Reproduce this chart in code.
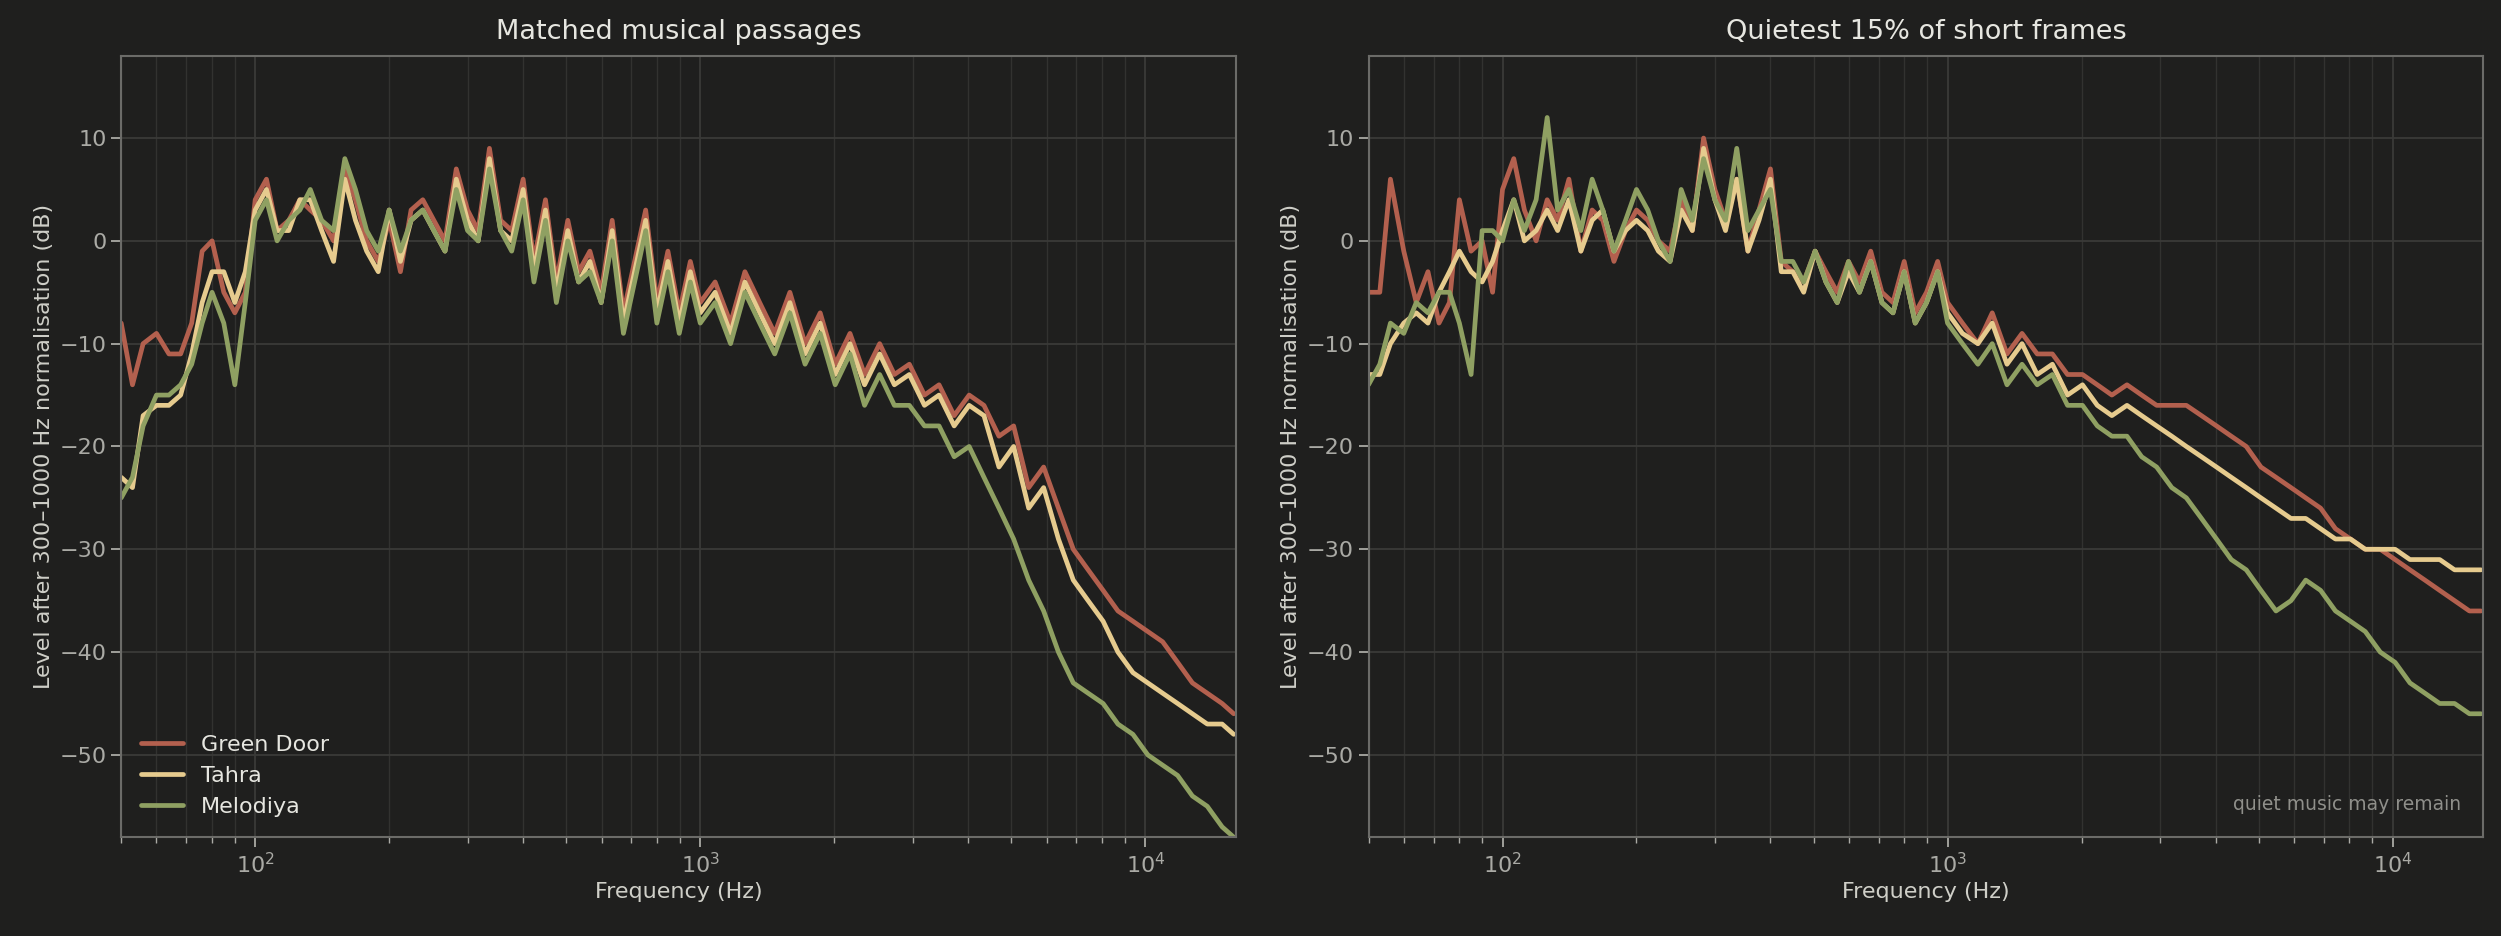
import numpy as np, pandas as pd, matplotlib
matplotlib.use("Agg")
import matplotlib.pyplot as plt, seaborn as sns

freq = [50,53,56,60,64,68,72,76,80,85,90,95,
 100,106,112,119,126,133,141,150,159,168,178,189,200,212,224,238,252,267,283,300,317,336,356,377,400,423,449,475,504,533,565,599,634,672,712,754,799,846,897,950,
 1000,1080,1170,1260,1360,1470,1590,1720,1860,2010,2170,2340,2530,2730,2950,3190,3440,3720,4020,4340,4690,5060,5470,5910,6380,6890,7440,8040,8680,9380,10130,10940,11820,12760,13780,14880,15800]

green_door_music = [-8,-14,-10,-9,-11,-11,-8,-1,0,-5,-7,-5,
 4,6,1,2,4,3,2,0,7,4,0,-2,2,-3,3,4,2,0,7,3,1,9,2,1,6,-2,4,-4,2,-3,-1,-5,2,-7,-2,3,-6,-1,-7,-2,
 -6,-4,-8,-3,-6,-9,-5,-10,-7,-12,-9,-13,-10,-13,-12,-15,-14,-17,-15,-16,-19,-18,-24,-22,-26,-30,-32,-34,-36,-37,-38,-39,-41,-43,-44,-45,-46]
tahra_music = [-23,-24,-17,-16,-16,-15,-11,-6,-3,-3,-6,-3,
 3,5,1,1,4,4,1,-2,6,2,-1,-3,3,-2,2,3,1,-1,6,2,0,8,1,0,5,-3,3,-5,1,-4,-2,-6,1,-8,-3,2,-7,-2,-8,-3,
 -7,-5,-9,-4,-7,-10,-6,-11,-8,-13,-10,-14,-11,-14,-13,-16,-15,-18,-16,-17,-22,-20,-26,-24,-29,-33,-35,-37,-40,-42,-43,-44,-45,-46,-47,-47,-48]
melodiya_music = [-25,-23,-18,-15,-15,-14,-12,-8,-5,-8,-14,-6,
 2,4,0,2,3,5,2,1,8,5,1,-1,3,-1,2,3,1,-1,5,1,0,7,1,-1,4,-4,2,-6,0,-4,-3,-6,0,-9,-4,1,-8,-3,-9,-4,
 -8,-6,-10,-5,-8,-11,-7,-12,-9,-14,-11,-16,-13,-16,-16,-18,-18,-21,-20,-23,-26,-29,-33,-36,-40,-43,-44,-45,-47,-48,-50,-51,-52,-54,-55,-57,-58]

green_door_quiet = [-5,-5,6,-1,-6,-3,-8,-6,4,-1,0,-5,
 5,8,3,0,4,2,6,-1,3,2,-2,1,3,2,0,-1,4,1,10,5,2,6,-1,3,7,-2,-3,-4,-1,-3,-5,-2,-4,-1,-5,-6,-2,-7,-5,-2,
 -6,-8,-10,-7,-11,-9,-11,-11,-13,-13,-14,-15,-14,-15,-16,-16,-16,-17,-18,-19,-20,-22,-23,-24,-25,-26,-28,-29,-30,-30,-31,-32,-33,-34,-35,-36,-36]
tahra_quiet = [-13,-13,-10,-8,-7,-8,-5,-3,-1,-3,-4,-2,
 1,4,0,1,3,1,4,-1,2,3,-1,1,2,1,-1,-2,3,1,9,4,1,6,-1,2,6,-3,-3,-5,-1,-4,-6,-3,-5,-2,-6,-7,-3,-8,-6,-3,
 -7,-9,-10,-8,-12,-10,-13,-12,-15,-14,-16,-17,-16,-17,-18,-19,-20,-21,-22,-23,-24,-25,-26,-27,-27,-28,-29,-29,-30,-30,-30,-31,-31,-31,-32,-32,-32]
melodiya_quiet = [-14,-12,-8,-9,-6,-7,-5,-5,-8,-13,1,1,
 0,4,1,4,12,3,5,1,6,3,-1,2,5,3,0,-2,5,2,8,4,2,9,1,3,5,-2,-2,-4,-1,-4,-6,-2,-5,-2,-6,-7,-3,-8,-6,-3,
 -8,-10,-12,-10,-14,-12,-14,-13,-16,-16,-18,-19,-19,-21,-22,-24,-25,-27,-29,-31,-32,-34,-36,-35,-33,-34,-36,-37,-38,-40,-41,-43,-44,-45,-45,-46,-46]

labels = ["Green Door", "Tahra", "Melodiya"]
palette = {"Green Door": "#b3604e", "Tahra": "#e6cb8e", "Melodiya": "#8fa062"}
bg = "#1f1f1e"

def frame(series):
    rows = []
    for lab, vals in zip(labels, series):
        for f, v in zip(freq, vals):
            rows.append((f, v, lab))
    return pd.DataFrame(rows, columns=["f", "v", "src"])

sns.set_theme(style="dark")
plt.rcParams["font.family"] = ["DejaVu Sans"]
fig, axes = plt.subplots(1, 2, figsize=(25.01, 9.36), dpi=100, facecolor=bg)
W, H = 1568, 587
axes[0].set_position([76 / W, 1 - 525 / H, 699 / W, 490 / H])
axes[1].set_position([858 / W, 1 - 525 / H, 699 / W, 490 / H])

data = [frame([green_door_music, tahra_music, melodiya_music]),
        frame([green_door_quiet, tahra_quiet, melodiya_quiet])]
titles = ["Matched musical passages", "Quietest 15% of short frames"]
for i, ax in enumerate(axes):
    ax.set_facecolor(bg)
    sns.lineplot(data=data[i], x="f", y="v", hue="src", palette=palette, ax=ax,
                 linewidth=3.4, legend=(i == 0), sort=False)
    ax.set_xscale("log")
    ax.set_xlim(50, 16000)
    ax.set_ylim(-58, 18)
    ax.set_yticks([10, 0, -10, -20, -30, -40, -50])
    ax.grid(True, which="major", color="#3a3a38", linewidth=1.3)
    ax.grid(True, which="minor", axis="x", color="#323230", linewidth=1)
    ax.set_axisbelow(True)
    for s in ax.spines.values():
        s.set_color("#6b6b68"); s.set_visible(True); s.set_linewidth(1.5)
    ax.tick_params(colors="#aaaaa5", labelsize=16, which="both", left=True, bottom=True)
    ax.tick_params(which="major", length=7, width=1.3)
    ax.tick_params(which="minor", length=4, width=1)
    ax.set_title(titles[i], color="#e6e6e0", fontsize=19.5, pad=12)
    ax.set_xlabel("Frequency (Hz)", color="#cfcfc8", fontsize=16)
    ax.set_ylabel("Level after 300–1000 Hz normalisation (dB)", color="#cfcfc8", fontsize=16)
leg = axes[0].legend(loc="lower left", frameon=False, fontsize=16, handlelength=1.9)
for t in leg.get_texts():
    t.set_color("#e6e6e0")
axes[1].text(0.98, 0.03, "quiet music may remain", transform=axes[1].transAxes,
             ha="right", va="bottom", color="#8f8f8a", fontsize=13.5)
fig.savefig("out.png", facecolor=bg)
